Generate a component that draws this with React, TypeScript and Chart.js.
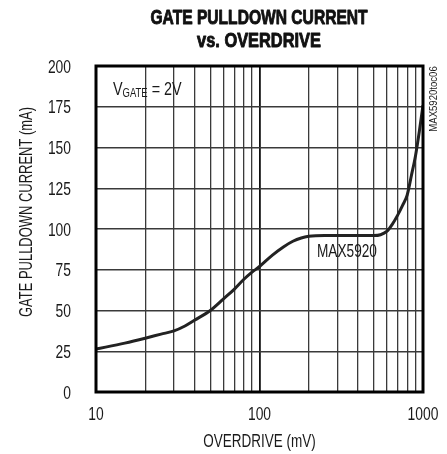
import React, { useEffect, useRef } from "react";
import { Chart, registerables } from "chart.js";

Chart.register(...registerables);

const overdriveMV = [10, 15, 20, 25, 30, 35, 40, 50, 60, 70, 80, 90, 100, 120, 140, 160, 180, 200, 250, 300, 400, 500, 550, 600, 650, 700, 750, 800, 850, 900, 950, 1000];
const pulldownMA = [26.3, 30, 33, 35.5, 37.5, 40.5, 44, 50, 57, 63, 69, 73.5, 77, 84, 89, 92.5, 94.5, 95.5, 96, 96, 96, 96, 96.5, 98.5, 103, 108.5, 114.5, 120.8, 133, 145, 160, 176];
const xTickValues = [10, 20, 30, 40, 50, 60, 70, 80, 90, 100, 200, 300, 400, 500, 600, 700, 800, 900, 1000];
const xTickLabels = [10, 100, 1000];
const yTickValues = [0, 25, 50, 75, 100, 125, 150, 175, 200];

const FONT = '"Liberation Sans", Arial, sans-serif';

const isMajor = (v: number) => Math.abs(Math.log10(v) - Math.round(Math.log10(v))) < 1e-9;

function drawText(
  ctx: CanvasRenderingContext2D,
  text: string,
  x: number,
  y: number,
  size: number,
  sx: number,
  align: CanvasTextAlign,
  bold = false,
  rot = 0,
  stroke = 0
) {
  ctx.save();
  ctx.translate(x, y);
  if (rot) ctx.rotate(rot);
  ctx.scale(sx, 1);
  ctx.font = `${bold ? "bold " : ""}${size}px ${FONT}`;
  ctx.textAlign = align;
  ctx.textBaseline = "alphabetic";
  ctx.fillText(text, 0, 0);
  if (stroke > 0) {
    ctx.lineWidth = stroke;
    ctx.strokeStyle = ctx.fillStyle as string;
    ctx.lineJoin = "round";
    ctx.strokeText(text, 0, 0);
  }
  const w = ctx.measureText(text).width * sx;
  ctx.restore();
  return w;
}

const decorPlugin = {
  id: "decor",
  afterDatasetsDraw(chart: any) {
    const { ctx, chartArea, scales } = chart;
    const { left, right, top, bottom } = chartArea;
    ctx.save();
    // frame
    ctx.strokeStyle = "#000";
    ctx.lineWidth = 3;
    ctx.strokeRect(left, top, right - left, bottom - top);

    ctx.fillStyle = "#1a1a1a";

    // tick labels
    for (const v of yTickValues) {
      const py = scales.y.getPixelForValue(v);
      drawText(ctx, String(v), 71, py + 6.5, 18, 0.77, "right");
    }
    for (const v of xTickLabels) {
      const px = scales.x.getPixelForValue(v);
      drawText(ctx, String(v), px, 420, 18, 0.77, "center");
    }

    // title
    ctx.fillStyle = "#111";
    drawText(ctx, "GATE PULLDOWN CURRENT", 259, 23.5, 19.5, 0.8, "center", true, 0, 0.9);
    drawText(ctx, "vs. OVERDRIVE", 259, 46.5, 19.5, 0.84, "center", true, 0, 0.9);

    ctx.fillStyle = "#1a1a1a";
    // x axis title
    drawText(ctx, "OVERDRIVE (mV)", 259.5, 447, 18, 0.75, "center");
    // y axis title
    drawText(ctx, "GATE PULLDOWN CURRENT (mA)", 31.5, 212, 18, 0.72, "center", false, -Math.PI / 2);
    // side code
    drawText(ctx, "MAX5920toc06", 437, 99, 11, 0.87, "center", false, -Math.PI / 2);

    // VGATE annotation
    let x = 113;
    x += drawText(ctx, "V", x, 95, 18, 0.8, "left");
    x += drawText(ctx, "GATE", x, 96.5, 13.5, 0.7, "left");
    drawText(ctx, " = 2V", x, 95, 18, 0.8, "left");

    // MAX5920 label
    drawText(ctx, "MAX5920", 317, 257, 17.5, 0.78, "left");
    ctx.restore();
  },
};

export default function App() {
  const ref = useRef<HTMLCanvasElement | null>(null);
  useEffect(() => {
    document.body.style.margin = "0";
    if (!ref.current) return;
    const chart = new Chart(ref.current, {
      type: "line",
      data: {
        datasets: [
          {
            data: overdriveMV.map((x, i) => ({ x, y: pulldownMA[i] })),
            borderColor: "#222",
            borderWidth: 3,
            pointRadius: 0,
            cubicInterpolationMode: "monotone",
            fill: false,
          },
        ],
      },
      options: {
        animation: false,
        responsive: false,
        maintainAspectRatio: false,
        layout: { padding: { left: 0, right: 24, top: 66, bottom: 0 } },
        plugins: { legend: { display: false }, tooltip: { enabled: false }, title: { display: false } },
        scales: {
          x: {
            type: "logarithmic",
            min: 10,
            max: 1000,
            afterFit: (s: any) => {
              s.height = 62;
              s.paddingLeft = 0;
              s.paddingRight = 0;
            },
            afterBuildTicks: (s: any) => {
              s.ticks = xTickValues.map((v) => ({ value: v }));
            },
            ticks: { display: false, autoSkip: false },
            grid: {
              drawTicks: false,
              color: (c: any) => (c.tick && isMajor(c.tick.value) ? "#111" : "#3a3a3a"),
              lineWidth: (c: any) => (c.tick && isMajor(c.tick.value) ? 1.8 : 1.3),
            },
            border: { display: false },
          },
          y: {
            type: "linear",
            min: 0,
            max: 200,
            afterFit: (s: any) => {
              s.width = 96;
              s.paddingTop = 0;
              s.paddingBottom = 0;
            },
            afterBuildTicks: (s: any) => {
              s.ticks = yTickValues.map((v) => ({ value: v }));
            },
            ticks: { display: false },
            grid: {
              drawTicks: false,
              color: "#3a3a3a",
              lineWidth: 1.4,
            },
            border: { display: false },
          },
        },
      },
      plugins: [decorPlugin],
    });
    return () => chart.destroy();
  }, []);
  return (
    <div style={{ position: "absolute", left: 0, top: 0, width: 447, height: 454 }}>
      <canvas ref={ref} width={447} height={454} style={{ width: 447, height: 454 }} />
    </div>
  );
}
